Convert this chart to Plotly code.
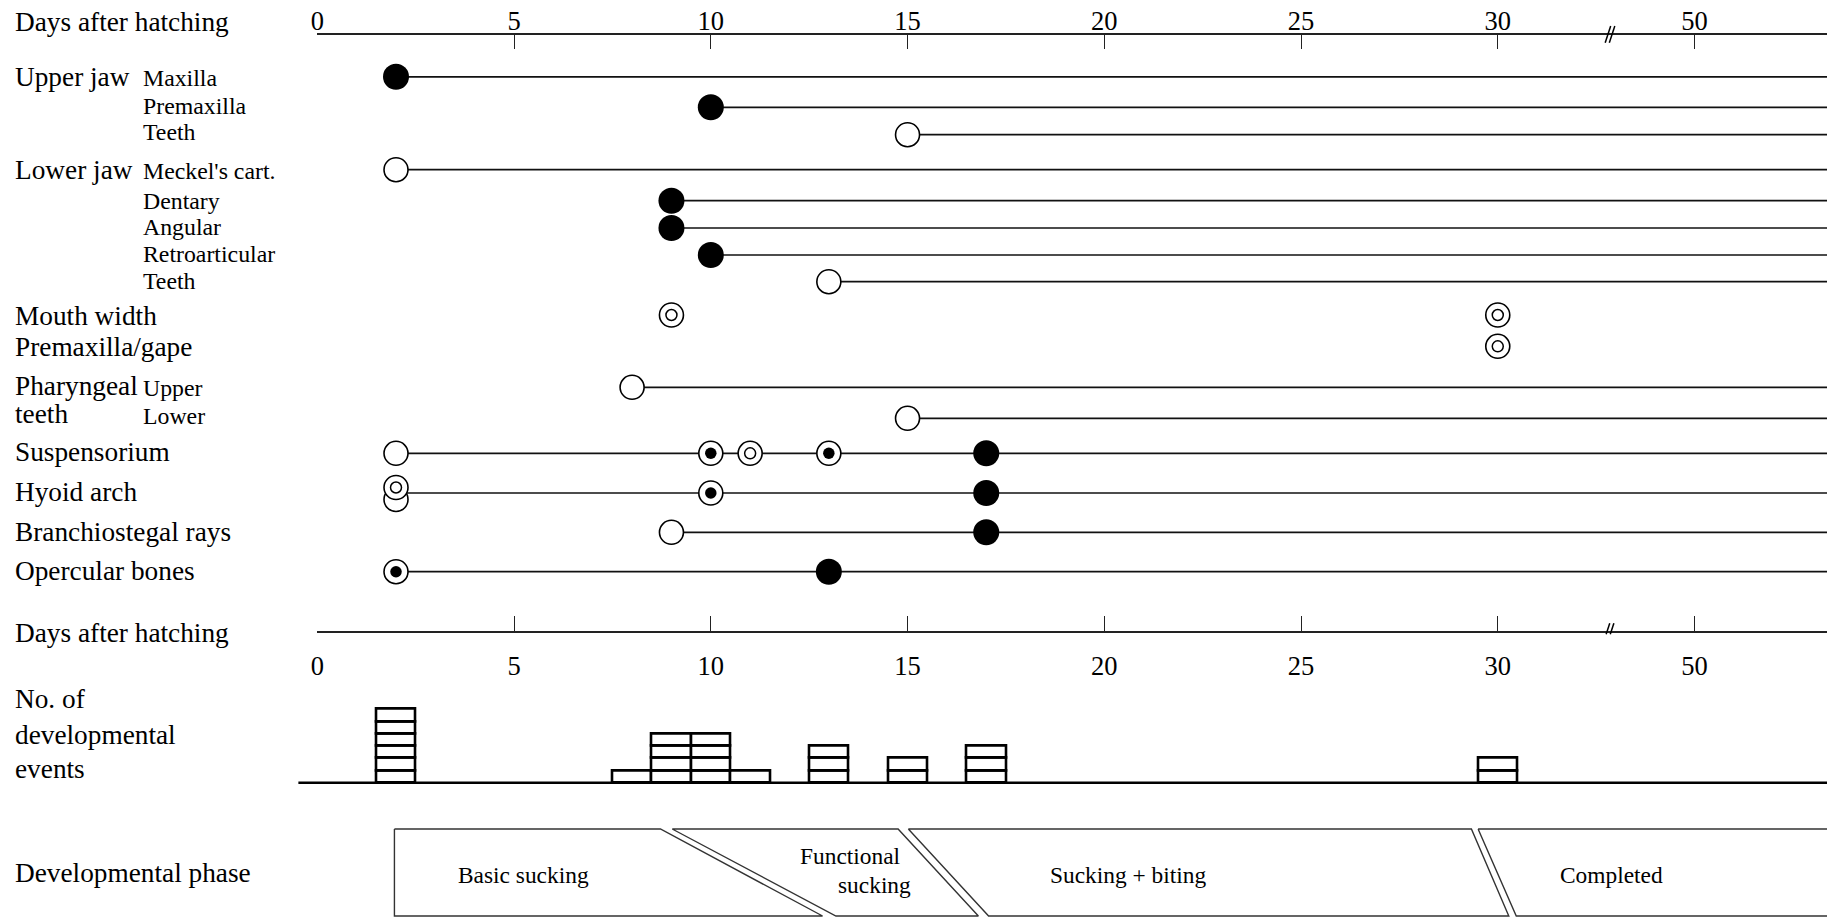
import plotly.graph_objects as go

# ---------------- data ----------------
structures = ["Maxilla", "Premaxilla", "Teeth (upper jaw)", "Meckel's cart.", "Dentary",
              "Angular", "Retroarticular", "Teeth (lower jaw)", "Mouth width",
              "Premaxilla/gape", "Pharyngeal teeth upper", "Pharyngeal teeth lower",
              "Suspensorium", "Hyoid arch", "Branchiostegal rays", "Opercular bones"]
event_days = [[2], [10], [15], [2], [9], [9], [10], [13], [9, 30], [30], [8], [15],
              [2, 10, 11, 13, 17], [2, 2, 10, 17], [9, 17], [2, 13]]
event_kinds = [["filled"], ["filled"], ["open"], ["open"], ["filled"], ["filled"],
               ["filled"], ["open"], ["double", "double"], ["double"], ["open"], ["open"],
               ["open", "dot", "double", "dot", "filled"],
               ["open", "double", "dot", "filled"],
               ["open", "filled"], ["dot", "filled"]]
has_line = [True, True, True, True, True, True, True, True, False, False,
            True, True, True, True, True, True]

hist_days = [2, 8, 9, 10, 11, 13, 15, 17, 30]
hist_counts = [6, 1, 4, 4, 1, 3, 2, 3, 2]

phase_names = ["Basic sucking", "Functional", "Sucking + biting", "Completed"]
phase_top_start = [1.96, 9.02, 15.02, 29.5]
phase_top_end = [8.72, 14.76, 29.33, None]
phase_bot_start = [1.96, 13.18, 17.06, 30.47]
phase_bot_end = [12.84, 16.80, 30.28, None]

tick_days = [0, 5, 10, 15, 20, 25, 30, 35]       # display positions (axis broken after 30)
tick_text = ["0", "5", "10", "15", "20", "25", "30", "50"]
break_pos = 32.85

# ---------------- layout constants ----------------
W, H = 1827, 917
PX0 = 311.5      # pixel of day 0
PPD = 39.5       # pixels per day
XMAX = (W - PX0) / PPD
FONT = "Liberation Serif, Times New Roman, serif"
BIG, SMALL, TICK, PH = 27.3, 23.8, 26.5, 23.4
LX1, LX2 = 6, 134.5   # left edges of the two label columns

row_y = [76.8, 107.3, 134.7, 169.7, 200.7, 228, 255, 281.7, 315, 346.3,
         387.3, 418.3, 453.3, 493, 532.3, 571.7]
TOP_AXIS_Y = 35
BOT_AXIS_Y = 632
HIST_BASE_Y = 782.7
BOX_PX = 12.3
PHASE_TOP_Y, PHASE_BOT_Y = 829, 916


def py(p):
    return 1 - p / H


fig = go.Figure()

# event lines
for i, days in enumerate(event_days):
    if has_line[i]:
        fig.add_trace(go.Scatter(x=[min(days), XMAX + 1], y=[row_y[i], row_y[i]],
                                 mode="lines", line=dict(color="#111", width=1.7),
                                 hoverinfo="skip", showlegend=False))

# event markers
pts = {"filled": ([], []), "open": ([], []), "dot": ([], []), "double": ([], [])}
for i, (days, kinds) in enumerate(zip(event_days, event_kinds)):
    seen = {}
    for d, k in zip(days, kinds):
        n = seen.get(d, 0)
        seen[d] = n + 1
        dup = days.count(d) > 1
        off = (6.5 if n == 0 else -5.5) if dup else 0
        pts[k][0].append(d)
        pts[k][1].append(row_y[i] + off)

OUT = 24
fig.add_trace(go.Scatter(x=pts["filled"][0], y=pts["filled"][1], mode="markers",
                         marker=dict(symbol="circle", size=26, color="black", line=dict(width=0)),
                         hoverinfo="skip", showlegend=False))
for k in ["open", "dot", "double"]:
    fig.add_trace(go.Scatter(x=pts[k][0], y=pts[k][1], mode="markers",
                             marker=dict(symbol="circle", size=OUT, color="white",
                                         line=dict(color="black", width=1.6)),
                             hoverinfo="skip", showlegend=False))
fig.add_trace(go.Scatter(x=pts["dot"][0], y=pts["dot"][1], mode="markers",
                         marker=dict(symbol="circle", size=11.5, color="black", line=dict(width=0)),
                         hoverinfo="skip", showlegend=False))
fig.add_trace(go.Scatter(x=pts["double"][0], y=pts["double"][1], mode="markers",
                         marker=dict(symbol="circle", size=11, color="white",
                                     line=dict(color="black", width=1.5)),
                         hoverinfo="skip", showlegend=False))

# phase polygons
for i, name in enumerate(phase_names):
    tr = phase_top_end[i] if phase_top_end[i] is not None else XMAX + 3
    br = phase_bot_end[i] if phase_bot_end[i] is not None else XMAX + 3
    fig.add_trace(go.Scatter(
        x=[phase_top_start[i], tr, br, phase_bot_start[i], phase_top_start[i]],
        y=[PHASE_TOP_Y, PHASE_TOP_Y, PHASE_BOT_Y, PHASE_BOT_Y, PHASE_TOP_Y],
        mode="lines", fill="toself", fillcolor="white",
        line=dict(color="#333", width=1.4), hoverinfo="skip", showlegend=False))

# histogram of developmental events (stacked unit boxes)
for level in range(1, max(hist_counts) + 1):
    xs = [d for d, c in zip(hist_days, hist_counts) if c >= level]
    fig.add_trace(go.Bar(x=xs, y=[1] * len(xs), base=[level - 1] * len(xs), width=1.0,
                         xaxis="x2", yaxis="y2",
                         marker=dict(color="white", line=dict(color="black", width=2.6)),
                         hoverinfo="skip", showlegend=False))

axis_common = dict(range=[0, XMAX], domain=[PX0 / W, 1], showgrid=False, zeroline=False,
                   showline=True, linecolor="#222", linewidth=1.5, ticks="inside",
                   tickcolor="#222", tickwidth=1.4, tickmode="array", tickvals=tick_days,
                   ticktext=tick_text, tickfont=dict(family=FONT, size=TICK, color="black"),
                   fixedrange=True)

hist_dom_top = py(HIST_BASE_Y) + 0.12

fig.update_layout(
    width=W, height=H, autosize=False,
    margin=dict(l=0, r=0, t=0, b=0, pad=0),
    paper_bgcolor="white", plot_bgcolor="rgba(0,0,0,0)",
    barmode="overlay", bargap=0,
    xaxis=dict(**axis_common, side="top", anchor="y", ticklen=14, ticklabelstandoff=-7),
    yaxis=dict(domain=[0, py(TOP_AXIS_Y)], range=[H, TOP_AXIS_Y], visible=False,
               fixedrange=True),
    xaxis2=dict(**axis_common, side="bottom", anchor="free", position=py(BOT_AXIS_Y),
                ticklen=15, ticklabelstandoff=10),
    yaxis2=dict(domain=[py(HIST_BASE_Y), hist_dom_top],
                range=[0, 0.12 * H / BOX_PX], visible=False, anchor="x2", fixedrange=True),
    showlegend=False,
)

# baseline of histogram
fig.add_shape(type="line", xref="paper", yref="paper", x0=(PX0 - 19) / W, x1=1,
              y0=py(HIST_BASE_Y), y1=py(HIST_BASE_Y), line=dict(color="black", width=2.6))

# axis break marks
for ay, top, bot in [(TOP_AXIS_Y, 26, 42.7), (BOT_AXIS_Y, 623.3, 634.3)]:
    for dx in (-0.05, 0.055):
        slant = (bot - top) * 0.33 / PPD
        fig.add_shape(type="line", xref="x", yref="paper",
                      x0=break_pos + dx - slant / 2, x1=break_pos + dx + slant / 2,
                      y0=py(bot), y1=py(top), line=dict(color="black", width=1.5))

# ---------------- text labels ----------------
labels = [
    ("Days after hatching", LX1, 21.7, BIG),
    ("Upper jaw", LX1, 76.8, BIG), ("Maxilla", LX2, 77.8, SMALL),
    ("Premaxilla", LX2, 105.7, SMALL), ("Teeth", LX2, 132.3, SMALL),
    ("Lower jaw", LX1, 170.2, BIG), ("Meckel's cart.", LX2, 170.7, SMALL),
    ("Dentary", LX2, 200.7, SMALL), ("Angular", LX2, 227.3, SMALL),
    ("Retroarticular", LX2, 254, SMALL), ("Teeth", LX2, 280.7, SMALL),
    ("Mouth width", LX1, 315.7, BIG), ("Premaxilla/gape", LX1, 347.3, BIG),
    ("Pharyngeal", LX1, 385.7, BIG), ("Upper", LX2, 388.3, SMALL),
    ("teeth", LX1, 414, BIG), ("Lower", LX2, 415.7, SMALL),
    ("Suspensorium", LX1, 452.3, BIG), ("Hyoid arch", LX1, 492.3, BIG),
    ("Branchiostegal rays", LX1, 531.7, BIG), ("Opercular bones", LX1, 570.7, BIG),
    ("Days after hatching", LX1, 633.3, BIG),
    ("No. of", LX1, 699.3, BIG), ("developmental", LX1, 735, BIG), ("events", LX1, 769.3, BIG),
    ("Developmental phase", LX1, 873.3, BIG),
]
for text, x, y, s in labels:
    fig.add_annotation(text=text, xref="paper", yref="paper", x=x / W, y=py(y),
                       xanchor="left", yanchor="middle", showarrow=False,
                       font=dict(family=FONT, size=s, color="black"))

phase_labels = [("Basic sucking", 5.24, 875), ("Functional", 13.55, 856),
                ("sucking", 14.15, 885), ("Sucking + biting", 20.6, 875),
                ("Completed", 32.9, 875)]
for text, x, y in phase_labels:
    fig.add_annotation(text=text, xref="x", yref="paper", x=x, y=py(y),
                       xanchor="center", yanchor="middle", showarrow=False,
                       font=dict(family=FONT, size=PH, color="black"))

fig.write_html("out.html", config={"displayModeBar": False},
               post_script="document.body.style.margin='0';")
